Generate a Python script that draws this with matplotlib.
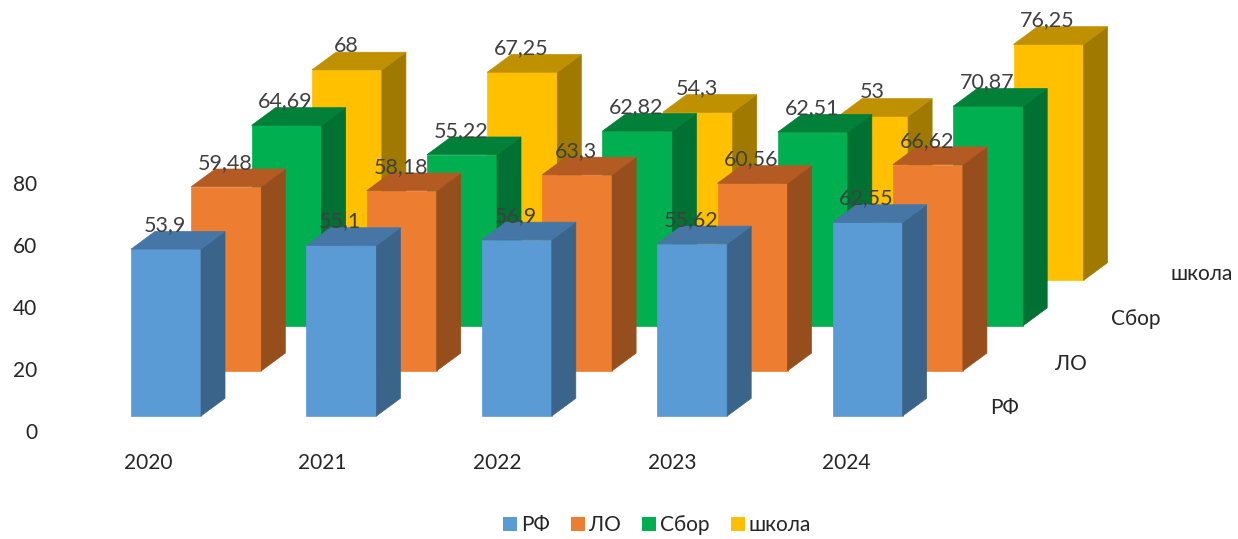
import matplotlib
matplotlib.use('Agg')
import matplotlib.pyplot as plt
from matplotlib.patches import Polygon, Patch

plt.rcParams['font.family'] = ['Lato', 'Open Sans', 'DejaVu Sans']

years = ['2020', '2021', '2022', '2023', '2024']
yticks = [0, 20, 40, 60, 80]

rf = [53.9, 55.1, 56.9, 55.62, 62.55]
lo = [59.48, 58.18, 63.3, 60.56, 66.62]
sbor = [64.69, 55.22, 62.82, 62.51, 70.87]
school = [68, 67.25, 54.3, 53, 76.25]
values = [rf, lo, sbor, school]
labels = ['РФ', 'ЛО', 'Сбор', 'школа']

# front, top, side
front = ['#5B9BD5', '#ED7D31', '#00B050', '#FFC000']
top = ['#4676A6', '#B35B22', '#008038', '#BF9000']
side = ['#3A6489', '#964E1C', '#007033', '#A07A00']

W, H = 1238, 539
px_x = 175.4     # pixels per year
px_y = 3.095     # pixels per value unit

# oblique projection, sizes in data units
bar_w = 70 / px_x
depth_x = 24 / px_x
depth_y = 17.7 / px_y
step_x = 60.3 / px_x
step_y = 45.2 / px_y
base0 = 15 / px_y


def draw_bar(ax, i, j, v):
    x0 = i + j * step_x - bar_w / 2
    x1 = x0 + bar_w
    y0 = base0 + j * step_y
    y1 = y0 + v
    z = 10 - j
    ax.add_patch(Polygon([(x0, y0), (x1, y0), (x1, y1), (x0, y1)], fc=front[j], ec=front[j], lw=0.5, zorder=z))
    ax.add_patch(Polygon([(x1, y0), (x1 + depth_x, y0 + depth_y), (x1 + depth_x, y1 + depth_y), (x1, y1)],
                         fc=side[j], ec=side[j], lw=0.5, zorder=z))
    ax.add_patch(Polygon([(x0, y1), (x1, y1), (x1 + depth_x, y1 + depth_y), (x0 + depth_x, y1 + depth_y)],
                         fc=top[j], ec=top[j], lw=0.5, zorder=z))
    ax.text(x0 + bar_w / 2 - 1 / px_x, y1 + 24 / px_y, str(v).replace('.', ','),
            ha='center', va='center', fontsize=15.5, color='#404040', zorder=20)


fig = plt.figure(figsize=(W / 100, H / 100), dpi=100)
ax = fig.add_axes([0, 0, 1, 1])
ax.set_xlim(-166 / px_x, (W - 166) / px_x)
ax.set_ylim(-(H - 431) / px_y, 431 / px_y)

for j in range(3, -1, -1):
    for i in range(len(years)):
        draw_bar(ax, i, j, values[j][i])

# series names along the depth axis
for j, name in enumerate(labels):
    ax.text(4.783 + j * 65.5 / px_x, -(408 - 431) / px_y + j * 44.5 / px_y, name,
            ha='center', va='center', fontsize=15, color='#262626')

for s in ax.spines.values():
    s.set_visible(False)
ax.set_xticks([i * 174.6 / px_x - 18 / px_x for i in range(len(years))])
ax.set_xticklabels(years)
ax.set_yticks(yticks)
ax.tick_params(axis='x', length=0, pad=-62, labelsize=15, labelcolor='#262626')
ax.tick_params(axis='y', length=0, pad=-27, labelsize=15, labelcolor='#262626')

handles = [Patch(fc=c, label=n) for c, n in zip(front, labels)]
ax.legend(handles=handles, ncol=4, frameon=False, fontsize=15, loc='center',
          bbox_to_anchor=(657 / W, 1 - 525 / H), handlelength=0.67, handleheight=0.67,
          handletextpad=0.16, columnspacing=1.05, labelcolor='#262626')

fig.savefig('out.png', dpi=100)
